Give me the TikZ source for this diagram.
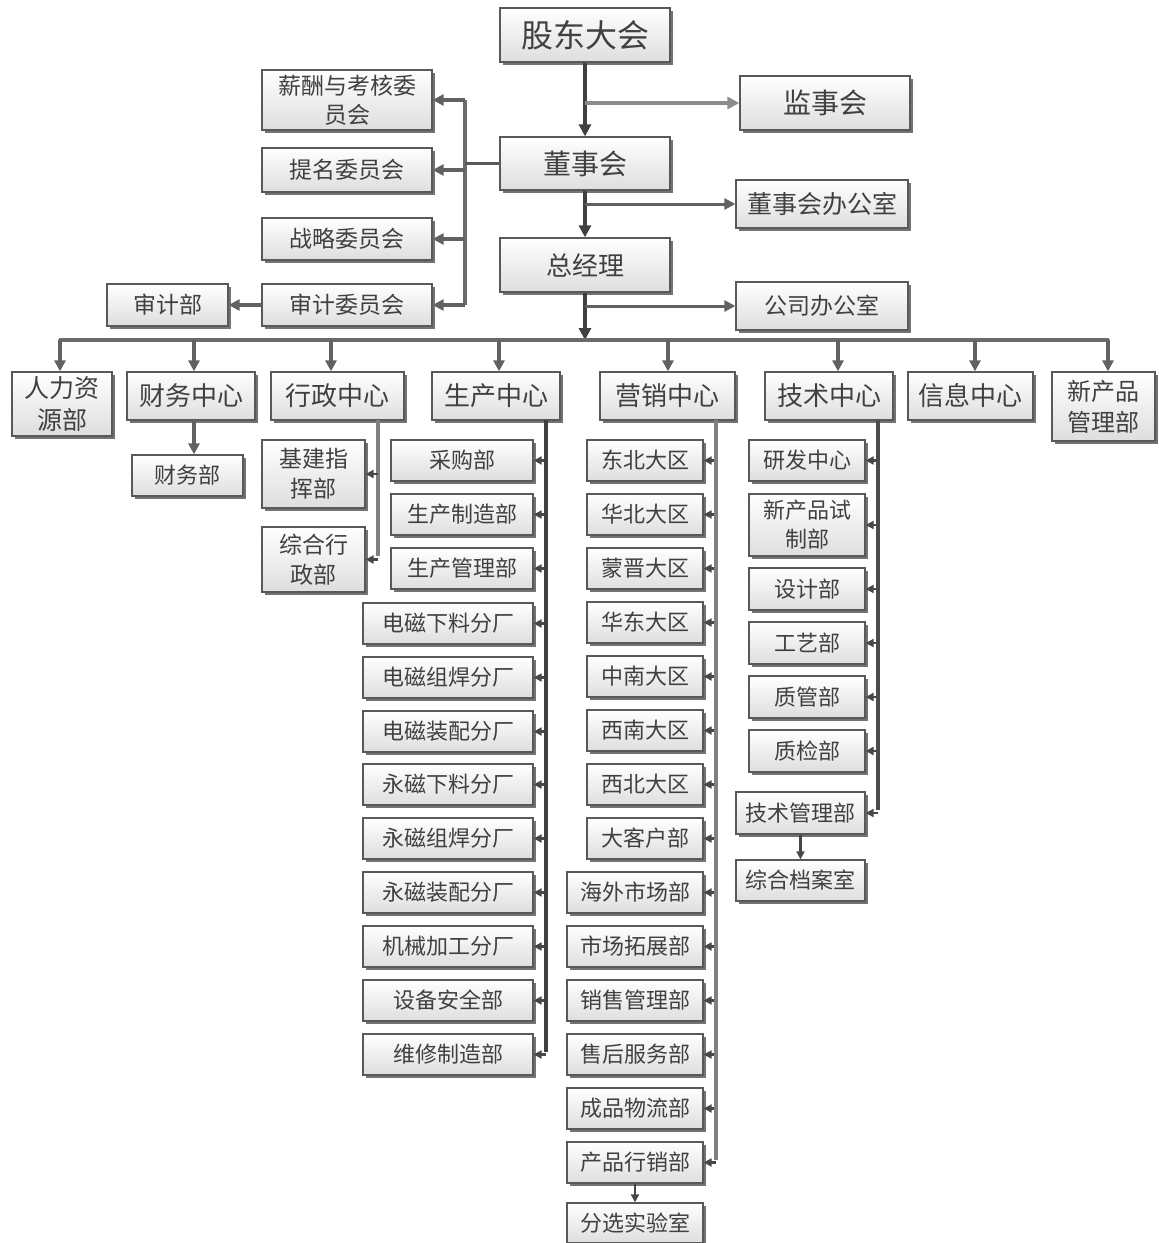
\documentclass[tikz,border=0pt]{standalone}
\usepackage{fontspec}
\newfontfamily\cjk{Noto Sans CJK SC}
\usetikzlibrary{arrows.meta,shadows}
\newcommand\bx[7][]{%
  \pgfmathsetmacro\bw{#5-#3}%
  \pgfmathsetmacro\bh{#6-#4}%
  \pgfmathsetmacro\bcx{(#3+#5)/2}%
  \pgfmathsetmacro\bcy{(#4+#6)/2}%
  \node[box,minimum width=\bw pt,minimum height=\bh pt,#1] (#2) at (\bcx,\bcy) {#7};}
\tikzset{
  box/.style={draw=black!65, line width=1.3pt, top color=white, bottom color=black!13,
    inner sep=1pt, align=center, text=black!75,
    drop shadow={shadow xshift=2.5pt, shadow yshift=-2.5pt, fill=black!55, opacity=1},
    font=\cjk\fontsize{22}{27}\selectfont},
  fs/.style 2 args={font=\cjk\fontsize{#1}{#2}\selectfont},
  trunk/.style={draw=black!75, line width=4.5pt, -{Triangle[length=12pt,width=12pt]}},
  branch/.style={draw=black!45, line width=4.5pt, -{Triangle[length=12pt,width=12pt]}},
  branchb/.style={draw=black!62, line width=3pt, -{Triangle[length=11pt,width=11pt]}},
  arr/.style={draw=black!62, line width=3.2pt, -{Triangle[length=11pt,width=11pt]}},
  carr/.style={draw=black!72, line width=2.2pt, -{Triangle[length=8pt,width=8pt]}},
  lin/.style={draw=black!58, line width=3.2pt},
}
\begin{document}
\begin{tikzpicture}[x=1pt,y=-1pt]
\useasboundingbox[fill=white] (0,0) rectangle (1159,1243);
% top
\bx[fs={32}{38}]{gd}{500}{8}{670}{62}{股东大会}
\bx[fs={28}{34}]{jsh}{740}{76}{910}{130}{监事会}
\bx[fs={28}{34}]{dsh}{500}{137}{670}{190}{董事会}
\bx[fs={25}{30}]{dsb}{736}{180}{908}{228}{董事会办公室}
\bx[fs={26}{32}]{zjl}{500}{238}{670}{292}{总经理}
\bx[fs={23}{28}]{gsb}{736}{282}{908}{330}{公司办公室}
% committees
\bx[fs={23}{29}]{xc}{262}{70}{432}{130}{薪酬与考核委\\员会}
\bx[fs={23}{28}]{tm}{262}{148}{432}{192}{提名委员会}
\bx[fs={23}{28}]{zl}{262}{218}{432}{260}{战略委员会}
\bx[fs={23}{28}]{sj}{262}{284}{432}{326}{审计委员会}
\bx[fs={23}{28}]{sjb}{107}{284}{228}{326}{审计部}
% row 1
\bx[fs={25}{32}]{hr}{12}{372}{112}{436}{人力资\\源部}
\bx[fs={26}{32}]{cw}{127}{372}{255}{420}{财务中心}
\bx[fs={26}{32}]{xz}{271}{372}{404}{420}{行政中心}
\bx[fs={26}{32}]{sc}{432}{372}{560}{420}{生产中心}
\bx[fs={26}{32}]{yx}{600}{372}{735}{420}{营销中心}
\bx[fs={26}{32}]{js}{765}{372}{893}{420}{技术中心}
\bx[fs={26}{32}]{xx}{908}{372}{1033}{420}{信息中心}
\bx[fs={24}{31}]{xcp}{1052}{372}{1155}{441}{新产品\\管理部}
\bx{cwb}{132}{455}{243}{496}{财务部}
\bx[fs={23}{30}]{jj}{262}{440}{365}{508}{基建指\\挥部}
\bx[fs={23}{30}]{zh}{262}{527}{365}{592}{综合行\\政部}
% trunk
\draw[trunk] (gd.south) -- (dsh.north);
\draw[branch] (gd.south |- jsh.west) -- (jsh.west);
\draw[trunk] (dsh.south) -- (zjl.north);
\draw[branchb] (dsh.south |- dsb.west) -- (dsb.west);
\coordinate (bus) at (585,340);
\draw[trunk] (zjl.south) -- (bus);
\draw[branchb] (zjl.south |- gsb.west) -- (gsb.west);
% committee bus
\coordinate (cbt) at (465,100);
\coordinate (cbb) at (465,305);
\draw[lin] (cbt) -- (cbb);
\draw[lin,draw=black!65] (dsh.west) -- (cbt |- dsh.west);
\draw[arr] (cbt |- xc.east) -- (xc.east);
\draw[arr] (cbt |- tm.east) -- (tm.east);
\draw[arr] (cbt |- zl.east) -- (zl.east);
\draw[arr] (cbt |- sj.east) -- (sj.east);
\draw[arr] (sj.west) -- (sjb.east);
% main bus
\coordinate (busL) at (60,340);
\coordinate (busR) at (1108,340);
\draw[lin,line cap=round] (busL) -- (busR);
\foreach \xx/\nn in {60/hr,194/cw,331/xz,499/sc,668/yx,838/js,975/xx,1108/xcp}{
  \coordinate (dp) at (\xx,340);
  \draw[arr] (dp) -- (dp |- \nn.north);
}
\coordinate (cwd) at (194,420);
\draw[arr] (cwd) -- (cwd |- cwb.north);
% admin
\coordinate (xv) at (378,420);
\draw[lin,draw=black!50] (xv) -- ([yshift=4pt]xv |- zh.east);
\draw[carr] (xv |- jj.east) -- (jj.east);
\draw[carr] (xv |- zh.east) -- (zh.east);
% production
\coordinate (pv) at (546,420);
\foreach \t/\xa/\ya [count=\i] in {采购部/391/440, 生产制造部/391/494, 生产管理部/391/548, 电磁下料分厂/363/603, 电磁组焊分厂/363/657, 电磁装配分厂/363/711, 永磁下料分厂/363/764, 永磁组焊分厂/363/818, 永磁装配分厂/363/872, 机械加工分厂/363/926, 设备安全部/363/980, 维修制造部/363/1034}{
  \pgfmathsetmacro\yb{\ya+41}
  \bx{p\i}{\xa}{\ya}{533}{\yb}{\t}
  \draw[carr] (pv |- p\i.east) -- (p\i.east);
}
\draw[lin,draw=black!75,line width=4.5pt] (pv) -- ([yshift=3pt]pv |- p12.east);
% marketing
\coordinate (mv) at (716,420);
\foreach \t/\xa/\ya [count=\i] in {东北大区/587/440, 华北大区/587/494, 蒙晋大区/587/548, 华东大区/587/602, 中南大区/587/656, 西南大区/587/710, 西北大区/587/764, 大客户部/587/818, 海外市场部/567/872, 市场拓展部/567/926, 销售管理部/567/980, 售后服务部/567/1034, 成品物流部/567/1088, 产品行销部/567/1142}{
  \pgfmathsetmacro\yb{\ya+41}
  \bx{m\i}{\xa}{\ya}{703}{\yb}{\t}
  \draw[carr] (mv |- m\i.east) -- (m\i.east);
}
\draw[lin,draw=black!50,line width=4.5pt] (mv) -- ([yshift=3pt]mv |- m14.east);
\bx{fx}{567}{1203}{703}{1243}{分选实验室}
\draw[carr] (m14.south) -- (fx.north);
% technology
\coordinate (tv) at (878,420);
\bx{t1}{749}{440}{865}{481}{研发中心}
\bx[fs={22}{29}]{t2}{749}{494}{865}{556}{新产品试\\制部}
\bx{t3}{749}{568}{865}{610}{设计部}
\bx{t4}{749}{622}{865}{664}{工艺部}
\bx{t5}{749}{676}{865}{718}{质管部}
\bx{t6}{749}{730}{865}{772}{质检部}
\bx{t7}{736}{792}{865}{834}{技术管理部}
\bx{t8}{736}{860}{865}{901}{综合档案室}
\foreach \i in {1,...,7}{\draw[carr] (tv |- t\i.east) -- (t\i.east);}
\draw[lin,draw=black!70,line width=4.5pt] (tv) -- ([yshift=3pt]tv |- t7.east);
\draw[carr] (t7.south) -- (t8.north);
\end{tikzpicture}
\end{document}
